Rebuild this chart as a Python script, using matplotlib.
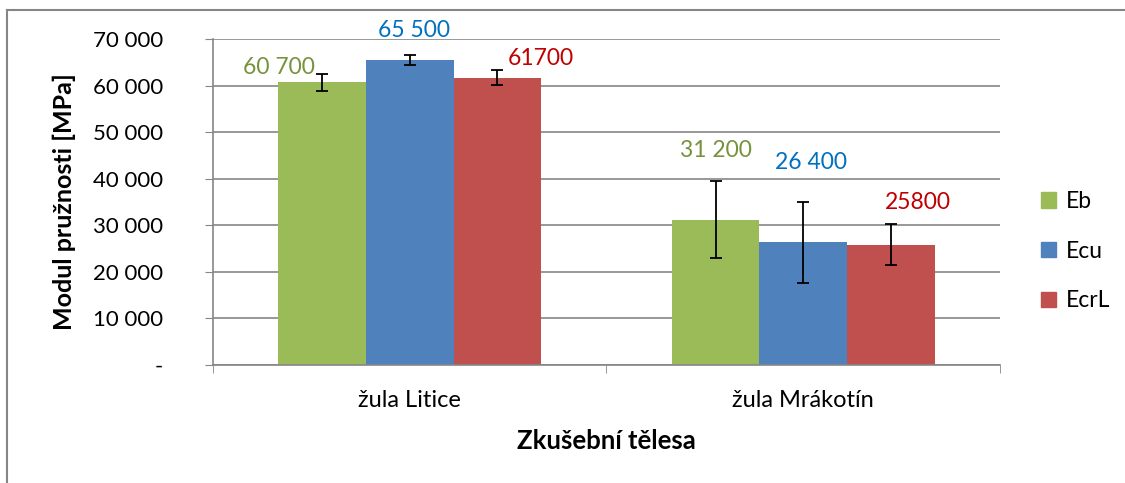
import matplotlib.pyplot as plt
import numpy as np
from matplotlib.lines import Line2D
from matplotlib.ticker import FuncFormatter

plt.rcParams['font.family'] = ['Lato', 'DejaVu Sans']

categories = ["žula Litice", "žula Mrákotín"]
series = ["Eb", "Ecu", "EcrL"]
values = {
    "Eb": [60700, 31200],
    "Ecu": [65500, 26400],
    "EcrL": [61700, 25800],
}
errors = {
    "Eb": [1800, 8300],
    "Ecu": [1100, 8700],
    "EcrL": [1600, 4400],
}
label_text = {
    "Eb": ["60 700", "31 200"],
    "Ecu": ["65 500", "26 400"],
    "EcrL": ["61700", "25800"],
}
bar_colors = {"Eb": "#9BBB59", "Ecu": "#4F81BD", "EcrL": "#C0504D"}
label_colors = {"Eb": "#76923C", "Ecu": "#0070C0", "EcrL": "#C00000"}

# label placement (x offset from bar centre in category units, y in data units)
label_dx = {"Eb": [-0.11, 0.0], "Ecu": [0.01, 0.02], "EcrL": [0.11, 0.07]}
label_y = [[63950, 46140], [71900, 43560], [65900, 34980]]

fig = plt.figure(figsize=(11.25, 4.83), dpi=100)
ax = fig.add_axes([0.1893, 0.2443, 0.6996, 0.675])

x = np.arange(len(categories))
w = 0.2225
for i, s in enumerate(series):
    pos = x + (i - 1) * w
    ax.bar(pos, values[s], width=w, color=bar_colors[s], label=s, zorder=2)
    ax.errorbar(pos, values[s], yerr=errors[s], fmt='none', ecolor='black',
                elinewidth=1.3, capsize=4.5, capthick=1.3, zorder=3)
    for j in range(len(categories)):
        ax.text(pos[j] + label_dx[s][j], label_y[i][j], label_text[s][j],
                color=label_colors[s], fontsize=16.5, ha='center', va='center',
                clip_on=False)

ax.set_xlim(-0.5, 1.5)
ax.set_ylim(0, 70000)
ax.set_yticks(np.arange(0, 70001, 10000))
ax.yaxis.set_major_formatter(FuncFormatter(
    lambda v, p: "-" if v == 0 else f"{int(v):,}".replace(",", " ")))
ax.set_xticks(x)
ax.set_xticklabels(categories, fontsize=17)
ax.set_xticks([-0.5, 0.5, 1.5], minor=True)
ax.tick_params(axis='x', which='major', length=0, pad=18)
ax.tick_params(axis='x', which='minor', length=6, color='#868686', direction='out')
ax.tick_params(axis='y', length=6, color='#868686', labelsize=16, pad=30)

ax.grid(axis='y', color='#868686', linewidth=1.2, zorder=0)
for side in ['top', 'right']:
    ax.spines[side].set_visible(False)
for side in ['left', 'bottom']:
    ax.spines[side].set_color('#868686')
    ax.spines[side].set_linewidth(1.2)

ax.set_ylabel("Modul pružnosti [MPa]", fontsize=18, fontweight='bold', labelpad=12)
ax.set_xlabel("Zkušební tělesa", fontsize=18.5, fontweight='bold', labelpad=13)

leg = fig.legend(handles=[plt.Rectangle((0, 0), 1, 1, color=bar_colors[s]) for s in series],
                 labels=series, loc='center left', bbox_to_anchor=(0.907, 0.48),
                 frameon=False, fontsize=16.5, handlelength=0.65, handleheight=0.65,
                 labelspacing=1.25, handletextpad=0.45)

# outer chart border (top and left visible)
fig.add_artist(Line2D([7 / 1125, 1], [1 - 10 / 483, 1 - 10 / 483], color='#868686', lw=1.5))
fig.add_artist(Line2D([7 / 1125, 7 / 1125], [0, 1 - 10 / 483], color='#868686', lw=1.5))

fig.savefig("out.png", dpi=100)
